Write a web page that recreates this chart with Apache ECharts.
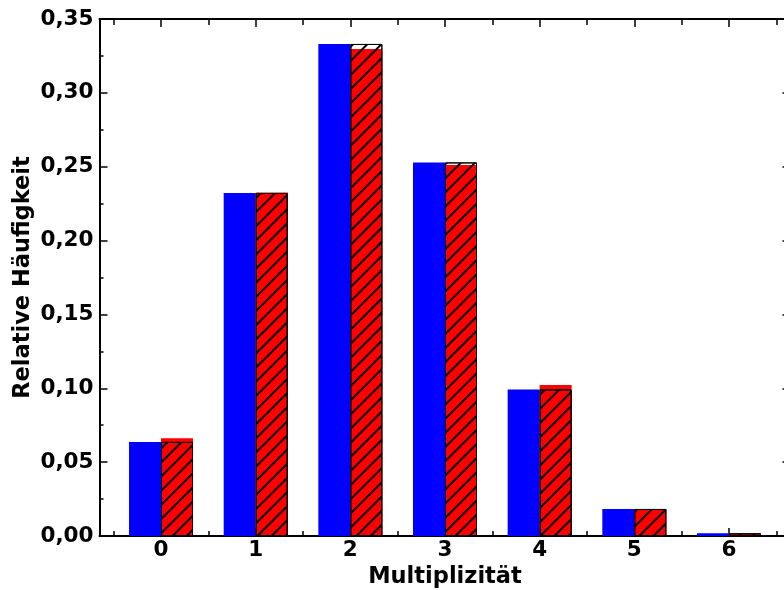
<!DOCTYPE html>
<html>
<head>
<meta charset="utf-8">
<script src="https://cdn.jsdelivr.net/npm/echarts@6/dist/echarts.min.js"></script>
<style>
html,body{margin:0;padding:0;background:#fff;overflow:hidden;width:784px;height:590px;}
#chart{position:absolute;left:0;top:0;width:784px;height:590px;}
</style>
</head>
<body>
<div id="chart"></div>
<script>
var categories = [0, 1, 2, 3, 4, 5, 6];
var blueValues = [0.0637, 0.2322, 0.3331, 0.2529, 0.0992, 0.0183, 0.0018];
var redValues = [0.0661, 0.2325, 0.3297, 0.2512, 0.1022, 0.0183, 0.0017];
var halfTicks = [-0.5, 0.5, 1.5, 2.5, 3.5, 4.5, 5.5, 6.5];
var yTitle = 'Relative Häufigkeit';
var xTitle = 'Multiplizität';

function pairs(vals) { return categories.map(function (c, i) { return [c, vals[i]]; }); }

var FONT = 'DejaVu Sans';
var FS = 21.5;
var TFS = 22.5;
var BW = 32;
var black = '#000';
var chart = echarts.init(document.getElementById('chart'), null, {renderer: 'canvas', width: 784, height: 590});

var commonX = {type: 'value', min: -0.65, max: 6.65, splitLine: {show: false}};
chart.setOption({
  animation: false,
  backgroundColor: '#fff',
  grid: {left: 99.5, top: 19, width: 691, height: 517, containLabel: false, outerBoundsMode: 'none'},
  xAxis: [
    Object.assign({}, commonX, {
      position: 'bottom',
      axisLine: {show: true, onZero: false, lineStyle: {color: black, width: 2}},
      axisTick: {show: true, inside: true, length: 8, customValues: categories, lineStyle: {color: black, width: 1.5}},
      axisLabel: {show: true, customValues: categories, margin: 3, color: black, fontFamily: FONT, fontWeight: 'bold', fontSize: FS,
        formatter: function (v) { return String(Math.round(v)); }},
      name: xTitle, nameLocation: 'middle', nameGap: 8,
      nameTextStyle: {color: black, fontFamily: FONT, fontWeight: 'bold', fontSize: TFS}
    }),
    Object.assign({}, commonX, {
      position: 'top',
      axisLine: {show: true, onZero: false, lineStyle: {color: black, width: 2}},
      axisTick: {show: true, inside: true, length: 8, customValues: categories, lineStyle: {color: black, width: 1.5}},
      axisLabel: {show: false}
    }),
    Object.assign({}, commonX, {
      position: 'bottom',
      axisLine: {show: false, onZero: false},
      axisTick: {show: true, inside: true, length: 5, customValues: halfTicks, lineStyle: {color: black, width: 1.5}},
      axisLabel: {show: false}
    }),
    Object.assign({}, commonX, {
      position: 'top',
      axisLine: {show: false, onZero: false},
      axisTick: {show: true, inside: true, length: 6, customValues: halfTicks, lineStyle: {color: black, width: 1.5}},
      axisLabel: {show: false}
    })
  ],
  yAxis: [
    {
      type: 'value', position: 'left', min: 0, max: 0.35, interval: 0.05,
      splitLine: {show: false},
      axisLine: {show: true, onZero: false, lineStyle: {color: black, width: 2}},
      axisTick: {show: true, inside: true, length: 8, lineStyle: {color: black, width: 1.5}},
      minorTick: {show: true, splitNumber: 2, length: 4, lineStyle: {color: black, width: 1.5}},
      axisLabel: {margin: 6, color: black, fontFamily: FONT, fontWeight: 'bold', fontSize: FS,
        formatter: function (v) { return v.toFixed(2).replace('.', ','); }},
      name: yTitle, nameLocation: 'middle', nameGap: 65, nameRotate: 90, nameMoveOverlap: false,
      nameTextStyle: {color: black, fontFamily: FONT, fontWeight: 'bold', fontSize: TFS}
    },
    {
      type: 'value', position: 'right', min: 0, max: 0.35, interval: 0.05,
      splitLine: {show: false},
      axisLine: {show: true, onZero: false, lineStyle: {color: black, width: 2}},
      axisTick: {show: true, inside: true, length: 8, lineStyle: {color: black, width: 1.5}},
      axisLabel: {show: false}
    }
  ],
  series: [
    {type: 'bar', name: 'blue', xAxisIndex: 0, yAxisIndex: 0, barWidth: BW, barGap: 0,
      data: pairs(blueValues), itemStyle: {color: '#0000ff'}},
    {type: 'bar', name: 'red', xAxisIndex: 0, yAxisIndex: 0, barWidth: BW, barGap: 0,
      data: pairs(redValues), itemStyle: {color: '#ff0000'}},
    {type: 'bar', name: 'placeholder', xAxisIndex: 2, yAxisIndex: 0, barWidth: BW, barGap: 0, silent: true,
      data: pairs(blueValues), itemStyle: {color: 'rgba(0,0,0,0)'}},
    {type: 'bar', name: 'hatch', xAxisIndex: 2, yAxisIndex: 0, barWidth: BW, barGap: 0, z: 5,
      data: pairs(blueValues),
      itemStyle: {color: 'rgba(0,0,0,0)', borderColor: black, borderWidth: 1,
        decal: {symbol: 'rect', symbolSize: 1, dashArrayX: [1, 0], dashArrayY: [1.25, 7.6], rotation: -Math.PI / 4, color: black}}}
  ]
});
</script>
</body>
</html>
